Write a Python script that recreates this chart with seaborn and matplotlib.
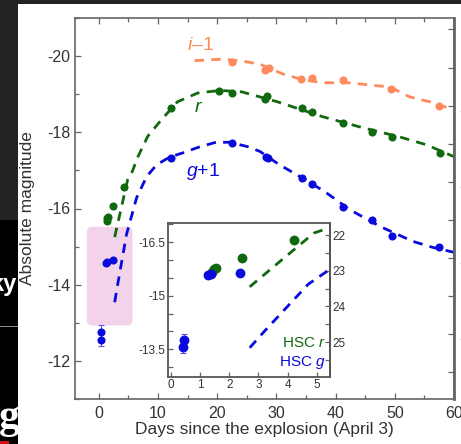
import matplotlib
matplotlib.use("Agg")
import matplotlib.pyplot as plt
from matplotlib.patches import Rectangle, FancyBboxPatch
from matplotlib.ticker import MultipleLocator, FixedLocator, FuncFormatter
import seaborn as sns

# ---- photometry (absolute magnitudes) ----
r_days = [1.40, 1.47, 1.53, 2.45, 4.20, 12.2, 20.3, 22.5, 28.0, 28.5, 34.3, 36.1, 41.2, 46.1, 49.5, 57.6]
r_mag = [-15.67, -15.75, -15.78, -16.06, -16.56, -18.63, -19.08, -19.03, -18.88, -18.95,
         -18.64, -18.54, -18.25, -18.01, -17.88, -17.46]

g_days = [0.42, 0.45, 1.28, 1.38, 2.35, 12.2, 22.5, 28.2, 28.6, 34.3, 36.1, 41.2, 46.1, 49.5, 57.4]
g_mag = [-13.56, -13.75, -15.57, -15.60, -15.64, -18.33, -18.73, -18.36, -18.32, -17.81,
         -17.65, -17.05, -16.69, -16.27, -16.00]
g_err = [0.18, 0.18, 0, 0, 0, 0, 0, 0, 0, 0, 0, 0, 0, 0, 0]

i_days = [22.5, 28.0, 28.7, 34.1, 36.1, 41.2, 49.3, 57.4]
i_mag = [-18.84, -18.63, -18.69, -18.39, -18.42, -18.37, -18.14, -17.69]

G_SHIFT = 1.0
I_SHIFT = -1.0

# ---- model light curves, as shown (r, g+1, i-1) ----
r_model_days = [2.7, 3.5, 4.9, 5.7, 6.6, 8.3, 10.6, 13.3, 16.7, 20.5, 24.2, 30.2, 37.8, 44.6, 50.8, 55.4, 60.0]
r_model_mag = [-15.25, -15.80, -16.76, -16.98, -17.35, -17.90, -18.33, -18.80, -19.03, -19.10,
               -19.06, -18.80, -18.41, -18.12, -17.88, -17.67, -17.36]

g1_model_days = [2.7, 3.2, 4.7, 6.4, 8.1, 9.8, 12.0, 14.2, 16.7, 19.6, 22.0, 25.0, 27.2, 30.5,
                 34.3, 38.2, 42.4, 47.5, 53.0, 56.4, 60.0]
g1_model_mag = [-13.54, -14.00, -15.32, -16.28, -16.84, -17.15, -17.35, -17.46, -17.60, -17.73,
                -17.74, -17.63, -17.50, -17.15, -16.81, -16.44, -15.97, -15.53, -15.14, -14.98, -14.85]

i1_model_days = [16.2, 20.8, 24.2, 27.2, 31.1, 34.5, 37.8, 42.4, 45.8, 49.2, 52.5, 55.9, 60.0]
i1_model_mag = [-19.88, -19.92, -19.87, -19.79, -19.53, -19.38, -19.30, -19.30, -19.24, -19.19,
                -18.93, -18.80, -18.59]

# early-phase window highlighted in the main panel
early_days = [-2.0, 5.7]
early_mag = [-15.52, -12.93]

DIST_MOD = 38.7

GREEN = "#11690f"
BLUE = "#0a0adc"
ORANGE = "#ff8a5b"
TXT = "#333333"
SPINE = "#666666"

sns.set_theme(style="ticks")
plt.rcParams.update({
    "font.family": ["Liberation Sans", "DejaVu Sans"],
    "mathtext.fontset": "custom",
    "mathtext.rm": "Liberation Sans",
    "mathtext.it": "Liberation Sans:italic",
    "axes.unicode_minus": False,
    "axes.edgecolor": SPINE,
    "axes.linewidth": 1.2,
    "xtick.color": SPINE,
    "ytick.color": SPINE,
    "xtick.labelcolor": TXT,
    "ytick.labelcolor": TXT,
})

fig = plt.figure(figsize=(4.61, 4.44), dpi=100, facecolor="#232323")
W, H = 461.0, 444.0

def fx(px):
    return px / W

def fy(py):
    return 1 - py / H

# slide backdrop around the figure
fig.add_artist(Rectangle((0, 0), fx(18), fy(220), transform=fig.transFigure,
                         facecolor="black", edgecolor="none", zorder=-3))
fig.add_artist(Rectangle((0, fy(327)), fx(18), 1.5 / H, transform=fig.transFigure,
                         facecolor="#8a8a8a", edgecolor="none", zorder=-2.5))
fig.add_artist(Rectangle((0, 0), fx(9), 3 / H, transform=fig.transFigure,
                         facecolor="#d01010", edgecolor="none", zorder=-2.4))
fig.text(fx(17), fy(291), "ky", ha="right", va="baseline", color="white",
         fontsize=17, fontweight="bold", zorder=-2)
fig.text(fx(-1), fy(428), "g", ha="left", va="baseline", color="white",
         fontsize=30, fontweight="bold", family="Liberation Serif", zorder=-2)
fig.add_artist(Rectangle((fx(18), 0), 1, fy(4), transform=fig.transFigure,
                         facecolor="white", edgecolor="none", zorder=-1))

# ---- main panel ----
ax = fig.add_axes([fx(75), fy(399), fx(454) - fx(75), fy(18) - fy(399)])
ax.set_facecolor("none")
ax.set_xlim(-4, 60)
ax.set_ylim(-11, -21)

ax.add_patch(FancyBboxPatch((early_days[0], early_mag[0]), early_days[1] - early_days[0],
                            early_mag[1] - early_mag[0],
                            boxstyle="round,pad=0,rounding_size=0.9", mutation_aspect=0.155,
                            facecolor="#f3d3ea", edgecolor="none", zorder=0.5))

dash = (0, (3.4, 2.6))
lw = 2.0
sns.lineplot(x=i1_model_days, y=i1_model_mag, ax=ax, color=ORANGE, lw=lw, linestyle=dash,
             estimator=None, sort=False, zorder=2)
sns.lineplot(x=r_model_days, y=r_model_mag, ax=ax, color=GREEN, lw=lw, linestyle=dash,
             estimator=None, sort=False, zorder=2)
sns.lineplot(x=g1_model_days, y=g1_model_mag, ax=ax, color=BLUE, lw=lw, linestyle=dash,
             estimator=None, sort=False, zorder=2)

g_plot = [m + G_SHIFT for m in g_mag]
i_plot = [m + I_SHIFT for m in i_mag]
err_idx = [k for k, e in enumerate(g_err) if e > 0]

ms_main = 34
sns.scatterplot(x=i_days, y=i_plot, ax=ax, color=ORANGE, s=ms_main, linewidth=0, zorder=3)
sns.scatterplot(x=r_days, y=r_mag, ax=ax, color=GREEN, s=ms_main, linewidth=0, zorder=3)
ax.errorbar([g_days[k] for k in err_idx], [g_plot[k] for k in err_idx],
            yerr=[g_err[k] for k in err_idx], fmt="none", ecolor="#5a5ad8",
            elinewidth=0.8, capsize=2, capthick=0.8, zorder=2.5)
sns.scatterplot(x=g_days, y=g_plot, ax=ax, color=BLUE, s=ms_main, linewidth=0, zorder=3)

lab_fs = 14
ax.text(17.2, -20.29, "$i$\u20131", color=ORANGE, fontsize=lab_fs, ha="center", va="center")
ax.text(16.9, -18.64, "$r$", color=GREEN, fontsize=lab_fs, ha="center", va="center")
ax.text(17.7, -16.97, "$g$+1", color=BLUE, fontsize=lab_fs, ha="center", va="center")

ax.xaxis.set_major_locator(MultipleLocator(10))
ax.xaxis.set_minor_locator(MultipleLocator(5))
ax.yaxis.set_major_locator(MultipleLocator(2))
ax.yaxis.set_minor_locator(MultipleLocator(1))
ax.tick_params(which="both", direction="in", top=True, right=False, labelsize=11.5)
ax.tick_params(which="major", length=4.5, width=0.9)
ax.tick_params(which="minor", length=3, width=0.9)
ax.tick_params(axis="y", pad=3.5)
ax.tick_params(axis="x", pad=5)
ax.set_xlabel("Days since the explosion (April 3)", fontsize=12.5, color=TXT, labelpad=1)
ax.set_ylabel("Absolute magnitude", fontsize=12.5, color=TXT)
ax.yaxis.set_label_coords(-0.105, 0.5)

sec = ax.secondary_yaxis("right", functions=(lambda m: m + DIST_MOD, lambda a: a - DIST_MOD))
sec.yaxis.set_major_locator(MultipleLocator(2))
sec.yaxis.set_minor_locator(MultipleLocator(1))
sec.tick_params(which="both", direction="in", labelsize=11.5, pad=4, labelcolor="#b0602a")
sec.tick_params(which="major", length=4.5, width=0.9)
sec.tick_params(which="minor", length=4.5, width=0.9)
sec.spines["right"].set_color(SPINE)
sec.spines["right"].set_linewidth(2.0)

# ---- inset: first days ----
axi = fig.add_axes([fx(168), fy(377), fx(330) - fx(168), fy(223) - fy(377)])
axi.set_facecolor("white")
axi.set_xlim(-0.1, 5.45)
axi.set_ylim(-12.72, -17.04)

sns.lineplot(x=r_model_days, y=r_model_mag, ax=axi, color=GREEN, lw=lw, linestyle=dash,
             estimator=None, sort=False, zorder=2)
sns.lineplot(x=g1_model_days, y=g1_model_mag, ax=axi, color=BLUE, lw=lw, linestyle=dash,
             estimator=None, sort=False, zorder=2)

ms_in = 50
sns.scatterplot(x=r_days, y=r_mag, ax=axi, color=GREEN, s=ms_in, linewidth=0, zorder=3)
axi.errorbar([g_days[k] for k in err_idx], [g_mag[k] for k in err_idx],
             yerr=[g_err[k] for k in err_idx], fmt="none", ecolor="#5a5ad8",
             elinewidth=0.8, capsize=2, capthick=0.8, zorder=2.5)
sns.scatterplot(x=g_days, y=g_mag, ax=axi, color=BLUE, s=ms_in, linewidth=0, zorder=3)

axi.text(5.3, -13.67, "HSC $r$", color=GREEN, fontsize=11, ha="right", va="center")
axi.text(5.3, -13.14, "HSC $g$", color=BLUE, fontsize=11, ha="right", va="center")

axi.xaxis.set_major_locator(MultipleLocator(1))
axi.yaxis.set_major_locator(FixedLocator([-16.5, -15.0, -13.5]))
axi.yaxis.set_minor_locator(MultipleLocator(0.5))
axi.yaxis.set_major_formatter(FuncFormatter(lambda v, p: f"{v:g}"))
axi.tick_params(which="both", direction="in", labelsize=8.5)
axi.tick_params(which="major", length=3.5, width=0.9)
axi.tick_params(which="minor", length=3.5, width=0.9)
axi.tick_params(axis="y", pad=2)
axi.tick_params(axis="x", pad=1.5)
for s in axi.spines.values():
    s.set_color("#555555")
    s.set_linewidth(1.3)

seci = axi.secondary_yaxis("right", functions=(lambda m: m + DIST_MOD, lambda a: a - DIST_MOD))
seci.yaxis.set_major_locator(MultipleLocator(1))
seci.yaxis.set_minor_locator(MultipleLocator(0.5))
seci.tick_params(which="both", direction="in", labelsize=8.5, pad=2)
seci.tick_params(which="both", length=3.5, width=0.9)
seci.spines["right"].set_color("#555555")
seci.spines["right"].set_linewidth(1.3)

fig.savefig("out.png", dpi=100, facecolor=fig.get_facecolor())
